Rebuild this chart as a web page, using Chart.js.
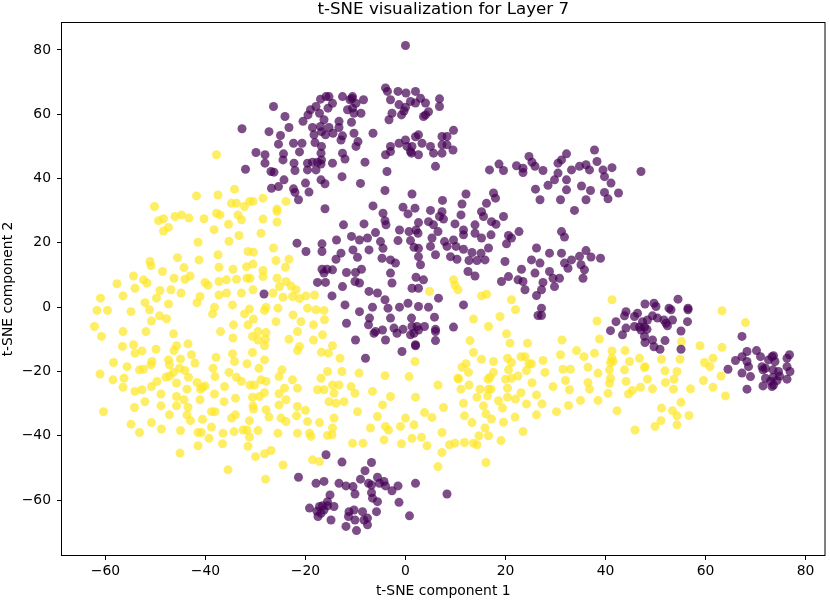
<!DOCTYPE html>
<html>
<head>
<meta charset="utf-8">
<script src="https://cdn.jsdelivr.net/npm/chart.js@4.4.1/dist/chart.umd.min.js"></script>
<style>
  body { margin: 0; background: #fff; }
  #wrap { width: 830px; height: 600px; }
</style>
</head>
<body>
<div id="wrap"><canvas id="chart"></canvas></div>
<script>
const TITLE = 't-SNE visualization for Layer 7';
const X_LABEL = 't-SNE component 1';
const Y_LABEL = 't-SNE component 2';

const xTicks = [-60, -40, -20, 0, 20, 40, 60, 80];
const yTicks = [-60, -40, -20, 0, 20, 40, 60, 80];
const xRange = [-68.9, 84.0];
const yRange = [-77.4, 88.7];

// label 0 (purple) clusters
const purpleTop = [[0,81.4],[-26.4,62.4],[-32.7,55.5],[-27.3,54.6],[-24.1,59.3],[-23.3,55.9],[-25,53.4],[-25.4,50.7],[-29.9,48.1],[-28.1,47.4],[-28.1,44.8],[-32,42.9],[-26.9,42.2],[-26.3,42],[-24.4,47.7],[-24.5,45.8],[-24.3,39.6],[-26.8,37],[-25.4,37.5],[-22.4,36.8],[-22.1,35.7],[-21.4,33.4],[-22.3,44.8],[-22.1,42.5],[-21.2,48.3],[-22.4,51],[-20.7,51],[-20.5,57.8],[-19,61.4],[-19.5,59.8],[-17.9,62.4],[-17.2,60.3],[-17,64.7],[-15.9,65.5],[-15.5,61.9],[-15.3,65.5],[-14.6,63.4],[-12.6,65.5],[-11.1,64.5],[-10.7,64.9],[-10.6,65.5],[-11.6,61.4],[-10.6,61.9],[-13.3,57.8],[-13.3,55.9],[-10.8,57.5],[-10.3,60.3],[-8.9,60.3],[-8.4,64.5],[-9.9,63.4],[-18.6,55.9],[-17,56.2],[-15.3,55.9],[-16.3,58.3],[-18.3,53.6],[-16.8,54.6],[-16,53.6],[-14.5,54.1],[-18.1,51.2],[-16.8,50],[-16.9,47.9],[-16.8,45.8],[-16.9,44.5],[-14.6,44.8],[-12.6,47.9],[-12.1,46.1],[-12.9,52],[-12.6,53.3],[-9.9,50],[-9.5,51.5],[-10.3,54.1],[-8.1,45.1],[-6.5,54.1],[-19.6,44.8],[-18.6,45.1],[-17.6,45.1],[-19.6,42.7],[-17.9,42.7],[-16.9,39.6],[-16.1,38.4],[-20,38.6],[-19.3,35.8],[-16.1,30.6],[-3.3,58.3],[-2.7,60.3],[-4,68.2],[-3.6,67.1],[-3,64.5],[-1.5,67.1],[-1.3,63],[-0.3,61],[0,62.2],[-0.8,59.8],[0.1,66.6],[-1.3,51],[0,52],[0.3,50],[1.2,47.9],[2,53],[-3,50],[-3,48.4],[-4,47.4],[2,67.1],[1,64],[3,65],[2,63.5],[4,63.5],[4.6,60.8],[4,59.8],[3.6,59.3],[6.8,64.8],[6.8,62.4],[2.6,53.6],[3.3,51],[1.3,50],[1,48.4],[2.6,47.4],[5,50],[5.6,47.9],[6,43.8],[7.3,53.1],[8.3,53.1],[9.6,55],[7.3,50.5],[8.3,50.5],[7.3,47.9],[9.5,48.9]];

const purpleArm = [[16.8,42.7],[18.7,44.5],[19.6,42.5],[22.2,44],[23.5,43.2],[23.5,41.9],[25.9,43.8],[24.7,46.9],[25.3,45.1],[27.5,42.5],[30.5,44.8],[31.2,45.8],[32.2,47.7],[30.5,41.7],[29.8,39.6],[28.5,37.9],[32.2,39.6],[33.2,42.7],[34.8,43.8],[36.1,44.3],[36.8,42.7],[37.8,48.9],[38.3,45.3],[39.5,42.7],[39.8,40.6],[41.3,43.4],[41.1,38.6],[42.6,35.5],[40.5,33.7],[39.8,35.7],[37,36.3],[35.2,37.7],[32.2,36.5],[31,33.4],[36.1,33.4],[33.8,30.1],[26.9,33.4],[26,36.7],[47.1,42.2]];

const purpleCore = [[-12.7,40.6],[-3.7,42.2],[-9,38.5],[-4.1,36.3],[1.3,35.2],[7.4,33.2],[11.3,32.1],[12.1,35.2],[-6.5,31.5],[-0.5,31.1],[1.9,30.8],[0.5,29],[-4.5,29.2],[-4.1,26.9],[5,30.1],[7.3,29.7],[6.8,28.2],[7.6,27.4],[11.1,28.7],[15.2,29.7],[15.6,28.2],[-12.4,25.6],[-8.3,25.9],[-3.9,25.6],[2.6,26.3],[4.6,26.6],[5.6,25.6],[9.9,25.9],[13.9,25.6],[-1.2,24],[-6,23.2],[0.7,23.5],[2.1,24],[2.5,23],[6.5,23.5],[11.6,24],[13.9,23],[15.2,21.5],[-13.8,20.9],[-10.8,22],[-9.2,20.9],[-7.6,21.5],[-5,20.4],[-1.5,20.7],[1,20.7],[5.3,21.5],[7.8,20.4],[9.6,20.9],[10.1,18.9],[11.6,22.5],[-4.5,18.3],[-7.3,17.8],[1.7,18.6],[2.6,18.3],[5,18.9],[8.3,18.9],[11.6,18],[13.3,17],[15.1,16.8],[-12.9,16.8],[-13.9,14.9],[-10.5,17.8],[-9.6,15.5],[-4.7,15.2],[-3,14.7],[-2,13.7],[2.6,15.7],[3,13.2],[6,16.3],[9,15.7],[10.3,14.9],[12.7,14.5],[14.3,14.5],[-8.8,11.8],[-11.8,10.8],[-10,10.8],[-10.1,8],[-9.2,7.5],[-3,10.6],[-2.7,7.5],[2.1,9.3],[3.6,8.5],[12.5,11.1],[13.9,9.7],[-14.6,11.6],[-12.6,6.4],[-7.3,4.9],[-5.6,4.4],[1.3,5.9],[2.6,5.9],[6.6,2.8],[-14.7,3.5],[-4.1,2.3],[-1.2,0],[0.5,1.2],[2.6,0.2],[4.6,0],[11.6,0.7],[-12.1,0.7],[-6.6,0],[-3.5,-0.3],[-7.2,-3.4],[-3,-3.4],[1.2,-3.4],[5.8,-3.1],[-11.8,-5],[-9.2,-1.4],[-7.4,-5.5],[-2.3,-6.5],[-0.5,-6.9],[1.3,-6],[2.3,-6],[3.8,-6],[6,-6.9],[9.6,-6.2]];

const purpleMid = [[17.1,22.5],[18.1,25.8],[17.2,26.6],[16.2,32.3],[17.6,35.5],[18,33.9],[19.6,28.2],[20.6,22.3],[21.2,21.5],[22.7,23.5],[20.2,19.7],[19.9,14.2],[15.9,14.7],[16.6,18.4],[26.2,18.4],[28.8,16.8],[31.2,16.8],[31.8,13.7],[33.2,14.7],[34.8,15.8],[36.1,17.6],[37.1,15.6],[39,15.2],[31.2,23.5],[31.8,21.8],[26.9,13.7],[25.2,14.7],[23.2,11.8],[25.9,10.6],[28.8,11.1],[27.5,7.7],[29.5,9],[30.8,9],[32.5,12.1],[35.1,13.2],[35.8,11.6],[35.5,9],[23.5,8],[23.9,5.4],[26.2,3.6],[29.8,6.4],[27.2,5.4],[19.2,8],[20.6,9.5],[22.5,8.5],[-21.7,19.9],[-19.9,17.3],[-16.7,19.7],[-16.7,17.3],[-16.7,11.8],[-15.7,11.8],[-16.3,10.6],[-17.6,7.7],[-16,7.7],[-28.3,4.1],[-10,-10.2],[-8,-15.9],[-6.3,-8.1],[-6,-7.6],[-4.6,-7.1],[-4,-10.2],[-1.7,-8.1],[-0.7,-13.8],[1.7,-8.1],[2,-11.7],[6,-7.6],[6,-10.4],[2,-12],[1,-8.6],[2.6,-7.1],[27.2,-0.3],[26.5,-2.6],[27.2,-2.6]];

const purpleBottom = [[-15.9,-45.9],[-12.7,-48.2],[-6.8,-48.3],[-8.1,-50.9],[-21.4,-52.9],[-17.9,-54.8],[-16.3,-54.2],[-13.3,-54.8],[-11.9,-55.6],[-10.5,-55.8],[-9,-53.5],[-7.4,-54.8],[-6.8,-55.3],[-5.6,-52.9],[-5.2,-54.8],[-4.3,-54.2],[-4,-55.6],[-2.7,-57.1],[-1.5,-55.6],[2,-54.8],[-15.1,-58.4],[-15.6,-60.5],[-10.1,-58.1],[-6.8,-57.7],[-6.6,-59.4],[-5.6,-60.5],[-1.3,-60.7],[0.8,-64.9],[-19.2,-62.5],[-17.7,-63.5],[-17.2,-62],[-16.6,-61.8],[-15.6,-61.8],[-16.9,-64.1],[-16.3,-63.1],[-14.3,-62],[-17.5,-65.1],[-14.9,-66.2],[-11.3,-63.6],[-10.3,-63.1],[-8.6,-63.6],[-11.4,-65.1],[-10.1,-66.2],[-8.3,-66.2],[-7.6,-65.6],[-7.6,-67.7],[-11.9,-68.2],[-9.8,-69.5],[-5.8,-63.6],[8.3,-58.1]];

const purpleRight = [[54.5,2.5],[47.9,1],[49.7,1.2],[50.1,0.2],[52.7,-0.3],[53.1,-0.8],[56.5,-0.3],[56.5,-0.8],[44.1,-1.4],[43.8,-2.7],[46.4,-1.9],[45.8,-2.9],[47.4,-4.5],[48.4,-4],[49.4,-2.7],[50.4,-3.4],[51.7,-4],[52.1,-5],[53.4,-4],[52.4,-5.8],[42.1,-4.5],[41,-7.3],[43.4,-8.6],[44.1,-6.5],[45.8,-6],[46.8,-6.2],[47.1,-7.1],[47.8,-6.2],[48.3,-6.9],[47.8,-9.1],[47.9,-11],[49.4,-10.2],[49.7,-12.3],[50.9,-13.1],[51.9,-10.4],[55.1,-7.4],[56.4,-4.5],[55.1,-13.1],[67.3,-9.1],[64.5,-19.3],[66,-16.6],[67.3,-15.4],[67.3,-20.5],[68.3,-13.8],[70.2,-13.5],[68.3,-16.9],[68.6,-18.5],[69,-21.6],[68.3,-25.5],[71,-15.4],[71.3,-18.5],[71.5,-19.5],[72,-22.1],[71.5,-24.5],[72.6,-16.4],[73.3,-15.4],[73.6,-15.1],[73.9,-16.9],[73.5,-19.5],[73.5,-21.8],[73.6,-24.2],[73.3,-24.7],[74.6,-20],[74.8,-21.4],[76.3,-15.9],[76.8,-14.8],[76.3,-18.5],[76.9,-20],[76.3,-22.4],[72,-19],[73,-23.1],[74.3,-22.8]];

// label 1 (yellow) clusters
const yellowUpper = [[-37.8,47.4],[-50.2,31.3],[-41.8,34.6],[-37.5,34.9],[-34.2,36.7],[-28.5,33.9],[-31.2,32.9],[-30.5,32.9],[-34.8,32.3],[-33.8,32.3],[-32.2,31.3],[-23.9,32.9],[-25.7,30.5],[-25.7,29.8],[-37.8,29.2],[-37.1,28.7],[-33.5,28.7],[-49.4,26.9],[-48.4,27.5],[-47.4,24.8],[-48.4,23.7],[-46.1,28.2],[-44.8,28.7],[-43.3,27.7],[-40.3,27.5],[-38.3,24.1],[-35.4,25.8],[-32.8,27.2],[-28.5,27.4],[-35.3,20.5],[-33.3,22.3],[-28.9,23],[-25.7,26.5],[-41.5,20.2],[-26.4,18.4],[-31.5,17.3],[-30.4,17.1],[-37.5,16.3],[-23.3,14.9],[-25.9,14.5],[-45.6,15.4],[-41.3,14.7],[-44.3,12.3],[-51.1,14.2],[-50.9,12.9],[-37.3,12.4],[-34.5,11.8],[-31.8,12.6],[-30.5,13.4],[-28.5,11.4],[-24,12.4],[-54.4,9.7],[-52.4,8.5],[-51.7,7.5],[-48.6,11.1],[-46.3,9],[-43.1,9.7],[-44.1,8.7],[-57.7,7.3],[-54.1,5.9],[-49.1,5.2],[-46.9,5.4],[-44.9,4.4],[-40.1,7.7],[-39.5,6.8],[-37.3,8],[-35.8,8.5],[-33.8,8.7],[-31.7,9],[-31.1,9],[-28.5,9.5],[-25.7,9],[-25.2,6.4],[-23.9,8],[-22.9,6.6],[-21.9,5.4],[-37.3,3.8],[-35.8,4.4],[-32.8,4.4],[-30.5,5.4],[-26.5,4.4],[-24.5,3.1],[-22.6,3.3],[-19.9,3.5],[-18.2,3.8],[-61,2.8],[-56.5,3.5],[-49.8,2.8],[-41.1,3.3]];

const yellowWest = [[-54.9,-1.4],[-52.1,1.4],[-51.2,-0.8],[-49.2,-2.7],[-47.8,-3.6],[-50.8,-4.3],[-47.4,1],[-56.5,-7.6],[-51.9,-7.6],[-46.4,-8.3],[-56.6,-12.2],[-54.4,-11.7],[-54.1,-14.3],[-52.7,-13.6],[-49.9,-13.1],[-46.3,-13.5],[-45.8,-12],[-43.5,-11.4],[-58.4,-17.2],[-55.7,-18.5],[-53.2,-19.5],[-52.4,-19.3],[-50.7,-16.9],[-50.9,-17.9],[-47.4,-16.4],[-47.2,-17.9],[-45,-16.1],[-42.8,-14.8],[-42.1,-17.4],[-58.5,-22.6],[-56.3,-22.1],[-56.5,-24.9],[-54.1,-26.2],[-52.7,-25.7],[-50.8,-24.7],[-49.7,-23.1],[-47.9,-21.8],[-47.2,-21.4],[-46.4,-20.3],[-45.2,-19],[-44.1,-19.7],[-43.4,-21.8],[-41.7,-23.4],[-40.6,-24.9],[-41,-25.5],[-40.1,-24.5],[-45.8,-23.6],[-43.7,-25.5],[-48.9,-27],[-45.8,-27.8],[-44.3,-28.8],[-41.1,-28.8],[-52.1,-29.4],[-54.2,-31.2],[-48.9,-30.7],[-45.8,-30.7],[-43.5,-31.1],[-47.2,-33.5],[-43.7,-33.5],[-43,-35.3],[-40.6,-34.9],[-54.9,-36.4],[-50.8,-35.9],[-48.8,-37.9],[-53.2,-39],[-45,-38.4],[-41.5,-39],[-40.8,-39],[-38.8,-37.3],[-41.5,-43.1],[-45.1,-45.4],[-41.7,1.4],[-38.2,0],[-38.6,-2.1],[-34.6,0.7],[-32.2,-2.1],[-31.2,-0.6],[-30.4,-3.7],[-28.2,-1],[-27.9,0],[-37,-7.6],[-34.4,-5.5],[-34.5,-9.6],[-31.5,-5.5],[-30.6,-9.1],[-29.5,-7.6],[-27.9,-7.9],[-29.5,-10.2],[-28,-10],[-28.2,-12],[-30.6,-14.1],[-34.6,-14.5],[-34.2,-16.9],[-37.9,-15.6],[-31.7,-17.6],[-28.2,-16.4],[-29.3,-19],[-38.5,-19],[-38.1,-21.6],[-35.3,-20.3],[-33.8,-21.8],[-32.8,-23.1],[-31.1,-24.2],[-30.2,-24.2],[-28.9,-22.6],[-27.9,-23.1],[-28.2,-26.6],[-29.2,-27.8],[-30.6,-28],[-36.2,-24.7],[-38.2,-27],[-36.3,-29.4],[-34,-28.3],[-30.5,-30.7],[-30.4,-31.7],[-27.9,-31.9],[-38.8,-32.5],[-38.1,-32.5],[-31.2,-35.3],[-34.8,-34.5],[-34,-33.5],[-27.3,-34.2],[-32.5,-38.2],[-31.7,-38.2],[-34.3,-38.7],[-29.5,-38.4],[-36.5,-39.2],[-39.3,-40.8],[-36.6,-42.5],[-31.5,-43.3],[-31.2,-40.4],[-30,-46.5],[-28.2,-45.6]];

const yellowLower = [[-61.7,-1],[-59.6,-1],[-62.2,-6],[-60.8,-9.1],[-25.9,-4.5],[-25.5,-0.3],[-22.5,-2.4],[-20.9,-4.5],[-21.2,2.7],[-19.6,-0.3],[-17.9,-0.8],[-16.3,-1],[-18.4,-5.5],[-16.2,-3.9],[-18.4,-10.2],[-21.6,-7.6],[-23.3,-10],[-21.2,-12.2],[-21.6,-13.5],[-16.6,-8.6],[-14.6,-12],[-16.8,-14],[-15.4,-14.3],[-61.1,-20.8],[-60.4,-32.5],[-25.3,-26.9],[-25.3,-30.4],[-23.9,-28.8],[-24.9,-34.5],[-25.5,-39.2],[-23.9,-35.6],[-25.3,-21.6],[-24.2,-25.2],[-24.7,-19.5],[-22.6,-22.6],[-21.6,-25.2],[-21.6,-30.9],[-21.8,-33.8],[-20,-32.1],[-21.6,-39.2],[-19.6,-35.6],[-19.2,-39.2],[-18.9,-40.2],[-18.6,-47.5],[-17.2,-48],[-15.6,-39.9],[-14.7,-39.7],[-14.6,-37.6],[-14.3,-34.5],[-17.2,-35.9],[-15.3,-29.4],[-13.9,-29.9],[-14.3,-26.8],[-14.6,-24.2],[-16.3,-25.7],[-17.6,-25.7],[-16.9,-22.1],[-15.6,-20],[-13.3,-24.2],[-12.3,-29.4],[-10.9,-24.7],[-9.6,-32.5],[-9.3,-20.5],[-10.1,-26.8],[-10.6,-42.3],[-8.5,-42.3],[-7,-37.6],[-6.6,-26.2],[-5.6,-34],[-4.6,-30.4],[-4.3,-41.3],[-4,-37.1],[-3.4,-38.2],[-3,-27.8],[-4.1,-21.3],[-0.8,-42.5],[-1,-37.1],[0,-34.5],[1.7,-36.6],[2,-28],[1.9,-16.9],[1.3,-40.8],[-13.1,-15.9],[-12.7,-20],[-24.5,-49.1],[-26.9,-44.6],[-28,-53.5],[-35.5,-50.6]];

const yellowRight = [[9.6,8.5],[9.9,6.9],[10.5,5.4],[4.8,4.9],[15.2,3.5],[16.2,4],[21.2,2.3],[41.3,2.3],[22,-0.8],[63.3,-1.1],[68,-4.8],[38.3,-4.3],[13.6,-3.7],[18.9,-2.9],[16.6,-6],[20.2,-8.3],[20.9,-11.2],[12.9,-10.4],[24.4,-11.2],[31.3,-10.2],[38.8,-9.9],[55.2,-10.7],[13.6,-14.1],[15.2,-16.2],[17.6,-16.9],[20.4,-15.9],[21.2,-17.2],[23.1,-15.4],[23.9,-15.4],[25.2,-17.6],[27.5,-16.6],[27.9,-20.3],[31,-14.8],[34.2,-13.5],[35.7,-15.4],[37.8,-14.3],[41.3,-13.6],[41.3,-15.9],[41.5,-16.9],[43.9,-13.5],[44.8,-16.9],[46.8,-15.9],[47.9,-18.5],[51.2,-16.2],[54.9,-16.2],[58.9,-12],[63.3,-12.5],[59.8,-17.2],[61.5,-15.9],[60.9,-18.5],[63.1,-21.4],[59.6,-22.8],[61.5,-24.9],[64,-27.6],[57,-25.4],[55.1,-29.6],[56.7,-33.7],[54.3,-33.8],[54.3,-36.6],[53.4,-32.2],[51.2,-31.4],[51.1,-35.3],[49.9,-37.1],[45.9,-38.2],[42.3,-32.2],[38.5,-29],[35,-29],[32.6,-30.6],[30.2,-32.5],[26.2,-33.5],[23.5,-38.7],[21.9,-34.2],[19.6,-35.8],[19.1,-41.5],[16.6,-40],[16.1,-48.3],[14.7,-40],[14.3,-42.8],[13.6,-42.3],[11.8,-42.1],[9.9,-42.3],[8.8,-42.8],[7.3,-45.2],[6.5,-49.6],[7.3,-39],[4.3,-43.1],[3.2,-40.5],[3.8,-32.8],[5.3,-34.3],[7.6,-31.2],[0.7,-21.6],[6.5,-24.2],[10.6,-22.3],[11.1,-25.5],[11.6,-29.9],[11.8,-33.8],[13.3,-35.9],[14.3,-28],[15.6,-30.7],[16.1,-33.2],[15.9,-37.6],[17.2,-34.8],[18.6,-29.1],[19.4,-31.4],[20.4,-28],[22,-28.6],[24.2,-30.1],[26.2,-27.3],[27.3,-30.1],[29.5,-24.7],[32,-22.8],[32.8,-25.7],[36.5,-23.4],[36.8,-25.5],[38.5,-20.5],[40.5,-26.8],[40.8,-23.7],[41,-22.1],[40.8,-19.5],[41,-17.2],[43.8,-19.5],[44.1,-23.1],[44.6,-27],[45.4,-25.9],[47,-24.9],[48.4,-22.4],[49.4,-25.4],[52,-23.4],[53.7,-22.4],[54.3,-20],[51.9,-19.8],[53.6,-25.5],[47.8,-18.8],[36.5,-18.7],[33,-19.3],[31.5,-19.3],[24.7,-17.6],[20.6,-19.5],[20,-22.4],[21.2,-22.1],[22.5,-21.4],[20.4,-25.2],[17.6,-20.3],[16.9,-21.8],[16.6,-25.5],[16.4,-27.6],[14.9,-25.5],[12.6,-20.3],[12.1,-17.6],[11.3,-18.7],[10.5,-22.1],[12.7,-24.2],[24.2,-19.7],[25.3,-23.5],[17.1,-25.5],[23.1,-26.6],[16.5,-22.4]];

const PURPLE = 'rgba(68, 1, 84, 0.7)';
const YELLOW = 'rgba(253, 231, 37, 0.7)';

const toXY = pts => pts.map(p => ({ x: p[0], y: p[1] }));
const purpleAll = [...purpleTop, ...purpleArm, ...purpleCore, ...purpleMid, ...purpleBottom, ...purpleRight];
const yellowAll = [...yellowUpper, ...yellowWest, ...yellowLower, ...yellowRight];

const minus = v => String(v).replace('-', '\u2212');

// box round the plot and the title above it, as matplotlib does
const framePlugin = {
    id: 'frame',
    afterDatasetsDraw(chart) {
        const { ctx, chartArea: a } = chart;
        ctx.save();
        ctx.strokeStyle = '#000';
        ctx.lineWidth = 1;
        ctx.strokeRect(a.left + 0.5, a.top + 0.5, a.right - a.left - 1, a.bottom - a.top - 1);
        ctx.fillStyle = '#000';
        ctx.font = '16.7px "DejaVu Sans"';
        ctx.textAlign = 'center';
        ctx.textBaseline = 'alphabetic';
        ctx.fillText(TITLE, (a.left + a.right) / 2, 14);
        ctx.restore();
    }
};

Chart.defaults.font.family = '"DejaVu Sans", sans-serif';
Chart.defaults.color = '#000';

const tickGrid = { display: true, drawOnChartArea: false, drawTicks: true, tickLength: 4, tickColor: '#000', tickWidth: 1 };

new Chart(document.getElementById('chart'), {
    type: 'scatter',
    data: {
        datasets: [
            { data: toXY(purpleAll), backgroundColor: PURPLE, pointRadius: 4.5, pointBorderWidth: 0, borderWidth: 0 },
            { data: toXY(yellowAll), backgroundColor: YELLOW, pointRadius: 4.5, pointBorderWidth: 0, borderWidth: 0 }
        ]
    },
    options: {
        responsive: true,
        maintainAspectRatio: false,
        animation: false,
        events: [],
        layout: { padding: { top: 22, right: 1, left: 0, bottom: 0 } },
        plugins: { legend: { display: false }, tooltip: { enabled: false } },
        scales: {
            x: {
                type: 'linear',
                min: xRange[0],
                max: xRange[1],
                grid: tickGrid,
                border: { display: false },
                afterBuildTicks: s => { s.ticks = xTicks.map(v => ({ value: v })); },
                afterFit: s => { s.height = 44; },
                ticks: { font: { size: 13.9 }, padding: 3, maxRotation: 0, callback: v => minus(v) },
                title: { display: true, text: X_LABEL, font: { size: 13.9 }, padding: { top: 1, bottom: 0 } }
            },
            y: {
                type: 'linear',
                min: yRange[0],
                max: yRange[1],
                grid: tickGrid,
                border: { display: false },
                afterBuildTicks: s => { s.ticks = yTicks.map(v => ({ value: v })); },
                afterFit: s => { s.width = 61; },
                ticks: { font: { size: 13.9 }, padding: 6, callback: v => minus(v) },
                title: { display: true, text: Y_LABEL, font: { size: 13.9 }, padding: { top: 0, bottom: 0 } }
            }
        }
    },
    plugins: [framePlugin]
});
</script>
</body>
</html>
